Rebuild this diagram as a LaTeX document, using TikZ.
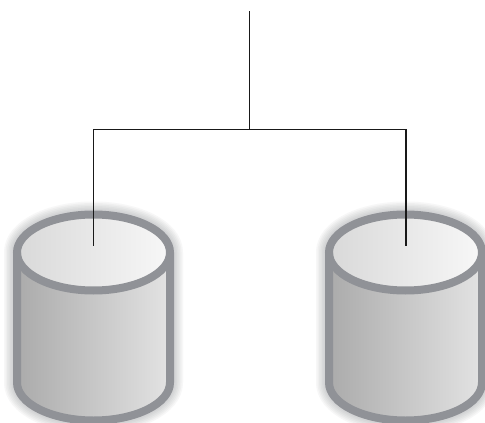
\documentclass[tikz,border=0pt]{standalone}
\definecolor{rimgray}{HTML}{909297}
\definecolor{glowgray}{HTML}{6F7175}
\tikzset{
  wire/.style={draw=black!90,line width=1.3pt},
  rim/.style={draw=rimgray,line width=8pt},
  dbcyl/.pic={
    \foreach \w in {26,23,20,17,14,11}{
      \draw[glowgray,opacity=0.055,line width=\w pt,line join=round]
        (-76.5,0) arc[start angle=180,end angle=0,x radius=76.5,y radius=-38]
        -- (76.5,130) arc[start angle=0,end angle=-180,x radius=76.5,y radius=-38] -- cycle;
    }
    \fill[white] (0,0) ellipse[x radius=76.5,y radius=38];
    \shade[left color=black!33,right color=black!11]
      (-76.5,0) -- (-76.5,130) arc[start angle=180,end angle=360,x radius=76.5,y radius=-38]
      -- (76.5,0) -- cycle;
    \shade[left color=black!15,right color=black!3]
      (0,0) ellipse[x radius=76.5,y radius=38];
    \draw[rim] (0,0) ellipse[x radius=76.5,y radius=38];
    \draw[rim] (-76.5,0) -- (-76.5,130)
      arc[start angle=180,end angle=360,x radius=76.5,y radius=-38] -- (76.5,0);
  }
}
\begin{document}
\begin{tikzpicture}[x=1pt,y=-1pt]
\useasboundingbox (0,0) rectangle (485,423);
\fill[white] (0,0) rectangle (485,423);
\begin{scope}
\clip (0,0) rectangle (485,423);
\pic (dbL) at (93.5,252.5) {dbcyl};
\pic (dbR) at (405.5,252.5) {dbcyl};
\end{scope}
\coordinate (feed) at (249.5,11);
\coordinate (junction) at (249.5,129.5);
\coordinate (leftEnd) at (93.5,245.5);
\coordinate (rightEnd) at (406,245.5);
\draw[wire] (feed) -- (junction);
\draw[wire,line join=miter] (leftEnd) |- (junction) -| (rightEnd);
\end{tikzpicture}
\end{document}
